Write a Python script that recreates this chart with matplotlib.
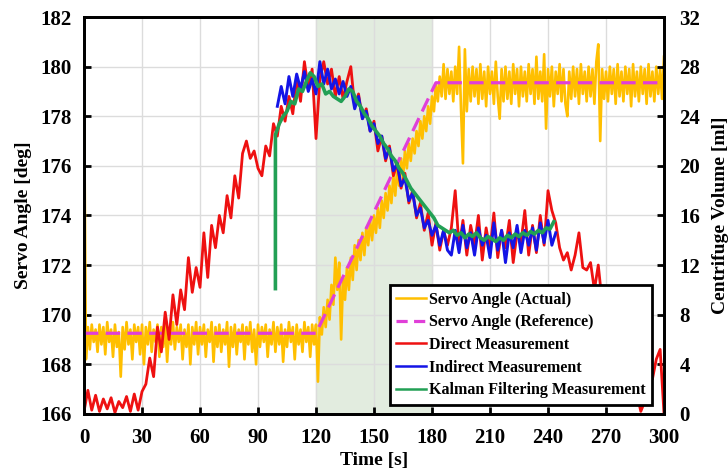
import numpy as np
import matplotlib
matplotlib.use("Agg")
from matplotlib import pyplot as plt
from matplotlib.lines import Line2D

plt.rcParams['font.family'] = ['Liberation Serif', 'DejaVu Serif']
plt.rcParams['font.weight'] = 'bold'

# Servo angle (actual), deg, one sample per second 0..300
actual_time = np.arange(0, 301)
servo_actual = [
    179.4, 168.2, 169.5, 168.6, 169.6, 168.9, 169.4, 168.5, 169.6, 168.8,
    169.5, 168.4, 169.7, 168.9, 169.4, 168.3, 169.6, 168.7, 169.3, 167.5,
    169.5, 168.6, 169.7, 168.8, 169.4, 168.2, 169.6, 168.9, 169.5, 168.4,
    169.6, 168.0, 169.5, 168.8, 169.7, 168.5, 169.4, 168.9, 169.6, 168.3,
    169.5, 168.7, 169.6, 168.1, 169.4, 168.8, 169.7, 168.6, 169.5, 168.9,
    169.6, 168.2, 169.4, 168.7, 169.6, 168.0, 169.5, 168.8, 169.7, 168.4,
    169.5, 168.8, 169.6, 168.3, 169.4, 168.9, 169.7, 168.1, 169.5, 168.7,
    169.6, 168.5, 169.4, 168.8, 169.7, 167.9, 169.5, 168.7, 169.6, 168.4,
    169.4, 168.9, 169.6, 168.2, 169.5, 168.8, 169.7, 168.5, 169.4, 168.0,
    169.6, 168.7, 169.5, 168.9, 169.6, 168.3, 169.4, 168.8, 169.7, 168.5,
    169.5, 168.8, 169.6, 168.1, 169.4, 168.7, 169.7, 168.9, 169.5, 168.2,
    169.6, 168.8, 169.4, 168.5, 169.7, 168.9, 169.5, 168.3, 169.6, 168.8,
    169.6, 167.3, 169.9, 169.2, 170.3, 169.5, 170.6, 169.8, 171.2, 170.4,
    172.3, 171.0, 172.1, 169.0, 171.5, 170.6, 171.9, 171.0, 172.3, 171.4,
    172.8, 171.8, 173.0, 172.2, 173.3, 172.4, 173.5, 172.8, 173.8, 173.0,
    174.0, 173.3, 174.3, 173.5, 174.6, 173.9, 174.9, 174.2, 175.2, 174.5,
    175.6, 174.8, 175.9, 175.2, 176.3, 175.5, 176.6, 175.9, 176.9, 176.2,
    177.1, 176.5, 177.4, 176.8, 177.8, 177.1, 178.0, 177.4, 178.4, 177.7,
    178.8, 178.2, 179.3, 178.6, 179.6, 178.8, 180.1, 178.7, 179.9, 178.9,
    179.8, 178.6, 180.0, 178.9, 180.8, 178.3, 176.1, 180.7, 178.2, 179.9,
    178.6, 180.0, 178.8, 179.9, 178.5, 180.1, 178.7, 179.8, 178.4, 180.0,
    178.9, 179.8, 178.5, 180.2, 178.8, 177.9, 179.9, 178.6, 180.0, 178.7,
    179.8, 178.5, 180.1, 178.9, 179.9, 178.4, 180.0, 178.8, 179.8, 178.6,
    180.1, 178.9, 179.9, 178.5, 180.4, 178.7, 179.8, 178.6, 180.5, 177.5,
    179.9, 178.8, 180.0, 178.4, 179.8, 178.9, 180.1, 178.6, 179.9, 178.5,
    178.0, 179.8, 178.7, 180.0, 178.8, 179.9, 178.5, 180.1, 178.9, 179.8,
    178.6, 180.0, 178.8, 179.9, 178.5, 180.2, 180.9, 177.0, 179.9, 178.7,
    179.8, 178.6, 180.0, 178.9, 179.9, 178.5, 180.1, 178.8, 179.8, 178.6,
    180.0, 178.9, 179.9, 178.4, 180.1, 178.8, 179.8, 178.6, 180.0, 178.9,
    179.9, 178.5, 180.1, 178.8, 179.8, 178.6, 180.0, 178.9, 179.9, 178.7, 180.4,
]

# Servo angle (reference), deg
ref_time = [0, 120, 182, 300]
servo_ref = [169.25, 169.25, 179.35, 179.35]

# Direct measurement, ml, every 2 s
direct_time = np.arange(0, 301, 2)
direct_ml = [
    0.2, 1.9, 0.3, 1.5, 0.2, 1.2, 0.4, 1.3, 0.1, 1.0,
    0.5, 1.4, 0.2, 1.6, 0.3, 1.8, 2.4, 4.5, 3.0, 7.0,
    5.0, 8.2, 6.0, 9.6, 7.2, 10.0, 8.4, 12.6, 9.8, 11.8,
    10.2, 14.6, 11.0, 15.2, 13.4, 16.0, 14.6, 17.6, 15.8, 19.2,
    17.4, 21.0, 22.0, 20.6, 21.2, 19.8, 19.2, 21.6, 20.8, 23.4,
    22.4, 24.8, 23.6, 25.6, 24.2, 27.0, 25.2, 28.4, 26.2, 27.8,
    22.2, 27.0, 28.4, 26.6, 27.8, 25.6, 27.2, 25.4, 26.8, 28.0,
    24.8, 25.8, 23.8, 24.6, 22.8, 23.6, 21.2, 22.4, 20.4, 21.6,
    19.2, 20.2, 18.2, 19.4, 17.0, 18.0, 15.8, 17.0, 14.8, 16.2,
    13.6, 15.4, 13.2, 14.8, 13.6, 15.0, 18.0, 13.4, 15.6, 12.8,
    15.2, 13.6, 16.0, 12.4, 15.0, 13.2, 16.2, 12.6, 14.8, 13.4,
    15.6, 12.2, 14.6, 13.8, 16.4, 12.8, 15.2, 13.0, 16.0, 13.6,
    18.0, 16.4, 15.4, 13.4, 12.4, 13.0, 11.6, 12.8, 14.6, 11.8,
    11.6, 12.2, 10.0, 12.0, 9.0, 8.2, 7.4, 6.6, 5.6, 4.8,
    3.8, 3.2, 2.4, 1.6, 0.2, 1.0, 3.6, 2.8, 4.4, 5.2,
    0.0,
]

# Indirect measurement, ml, every 2 s
indirect_time = np.arange(100, 245, 2)
indirect_ml = [
    24.8, 26.4, 25.0, 27.2, 25.6, 27.4, 26.2, 27.6, 26.0, 27.0,
    25.8, 28.4, 26.6, 27.8, 26.2, 27.0, 25.8, 26.8, 25.6, 26.4,
    24.6, 25.6, 23.8, 24.4, 22.8, 23.4, 21.8, 22.4, 20.6, 21.4,
    19.6, 20.2, 18.4, 19.0, 17.2, 17.8, 16.0, 16.6, 15.0, 15.6,
    14.4, 15.2, 13.6, 14.8, 13.2, 12.8, 14.8, 13.0, 15.2, 13.4,
    14.6, 12.8, 15.0, 13.6, 14.4, 12.6, 15.4, 13.2, 14.8, 12.2,
    14.6, 13.4, 15.2, 13.0, 14.8, 13.6, 15.0, 13.2, 15.4, 13.8,
    15.6, 13.6, 14.6,
]

# Kalman filtering measurement, ml (first point is the start-up value)
kalman_time = np.concatenate([[99], np.arange(99, 244, 2)])
kalman_ml = [10.1,
    22.5, 23.4, 24.0, 24.4, 25.2, 25.0, 26.2, 26.0, 26.8, 27.5,
    27.2, 26.4, 26.6, 25.8, 26.0, 25.6, 25.4, 25.2, 25.6, 26.2,
    26.0, 25.2, 24.8, 24.2, 23.8, 23.2, 22.8, 22.4, 21.8, 21.4,
    20.8, 20.4, 19.8, 19.4, 18.8, 18.2, 17.8, 17.4, 17.0, 16.6,
    16.2, 15.8, 15.2, 15.0, 14.8, 14.6, 14.8, 14.4, 14.6, 14.2,
    14.5, 14.3, 14.6, 14.2, 14.0, 14.3, 14.1, 13.9, 14.2, 14.0,
    14.4, 14.2, 14.5, 14.3, 14.6, 14.4, 14.7, 14.5, 14.8, 14.6,
    15.0, 14.9, 15.5,
]

YELLOW = '#ffbf00'
MAGENTA = '#e03fd8'
RED = '#ee1111'
BLUE = '#1414e6'
GREEN = '#22a055'

fig = plt.figure(figsize=(7.28, 4.73), dpi=100)
ax1 = fig.add_axes([0.1154, 0.125, 0.7967, 0.839])
ax2 = ax1.twinx()

ax1.axvspan(120, 180, color='#e2ecdf', zorder=0)
ax1.grid(True, color='#dcdcdc', linewidth=1.0, zorder=0.5)
ax1.set_axisbelow(True)

ax1.plot(actual_time, servo_actual, color=YELLOW, linewidth=1.9, zorder=2)
ax1.plot(ref_time, servo_ref, color=MAGENTA, linewidth=2.3,
         linestyle=(0, (4.5, 2.3)), zorder=3)

ax2.plot(direct_time, direct_ml, color=RED, linewidth=2.0)
ax2.plot(indirect_time, indirect_ml, color=BLUE, linewidth=2.1)
ax2.plot(kalman_time, kalman_ml, color=GREEN, linewidth=2.6)

ax1.set_xlim(0, 300)
ax1.set_ylim(166, 182)
ax2.set_ylim(0, 32)
ax1.set_xticks(np.arange(0, 301, 30))
ax1.set_yticks(np.arange(166, 183, 2))
ax2.set_yticks(np.arange(0, 33, 4))

for ax in (ax1, ax2):
    for s in ax.spines.values():
        s.set_linewidth(2.0)
        s.set_color('black')

ax1.tick_params(axis='both', direction='in', length=5, width=2,
                labelsize=15, pad=9, top=False, right=False)
ax1.tick_params(axis='x', pad=10)
ax2.tick_params(axis='y', direction='in', length=5, width=2,
                labelsize=15, pad=11)

ax1.set_xlabel('Time [s]', fontsize=14, fontweight='bold')
ax1.set_ylabel('Servo Angle [deg]', fontsize=14, fontweight='bold')
ax2.set_ylabel('Centrifuge Volume [ml]', fontsize=14, fontweight='bold')
ax1.xaxis.set_label_coords(0.5, -0.095)
ax1.yaxis.set_label_coords(-0.09, 0.5)
ax2.yaxis.set_label_coords(1.083, 0.5)

handles = [
    Line2D([], [], color=YELLOW, linewidth=1.8),
    Line2D([], [], color=MAGENTA, linewidth=2.3, linestyle=(0, (3.5, 2.0))),
    Line2D([], [], color=RED, linewidth=1.8),
    Line2D([], [], color=BLUE, linewidth=1.8),
    Line2D([], [], color=GREEN, linewidth=1.8),
]
labels = ['Servo Angle (Actual)', 'Servo Angle (Reference)', 'Direct Measurement',
          'Indirect Measurement', 'Kalman Filtering Measurement']
leg = ax2.legend(handles, labels, loc='lower right', bbox_to_anchor=(0.979, 0.023),
                 borderaxespad=0, fancybox=False, framealpha=1, edgecolor='black',
                 prop={'size': 11.5, 'weight': 'bold'}, handlelength=1.9,
                 handletextpad=0.15, labelspacing=0.42, borderpad=0.4)
leg.get_frame().set_linewidth(2.0)

fig.savefig('out.png', dpi=100)
